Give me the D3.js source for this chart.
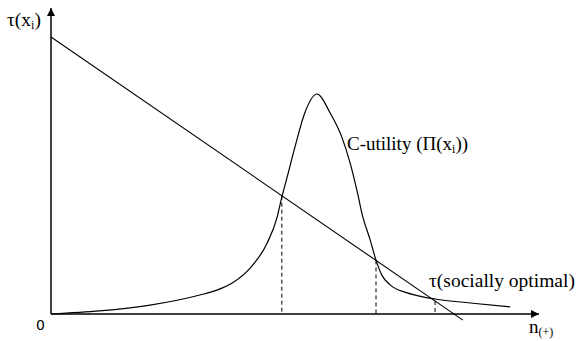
<!DOCTYPE html>
<html>
<head>
<meta charset="utf-8">
<script src="https://cdn.jsdelivr.net/npm/d3@7"></script>
<style>
  body { margin: 0; background: #fff; }
  text { font-family: "Liberation Serif", "Times New Roman", serif; fill: #000; }
</style>
</head>
<body>
<div id="chart-area"></div>
<script>
// Data (arbitrary units 0-100)
const curveX = [0, 10.0, 20.3, 30.5, 34.0, 37.3, 40.8, 44.3, 46.3, 47.3, 48.4, 50.0, 52.0, 54.5, 57.2, 59.6, 61.3, 62.9, 63.7, 65.4, 66.6, 67.8, 69.5, 73.0, 76.2, 78.7, 85.9, 94.1]
const curveY = [0, 1.0, 2.9, 6.2, 7.8, 10.3, 15.0, 23.2, 31.4, 38.2, 44.8, 54.6, 65.7, 71.9, 65.7, 57.8, 49.3, 38.9, 33.0, 24.2, 17.6, 12.7, 9.5, 6.9, 5.6, 4.9, 3.6, 2.3]
const lineX = [0, 84.4]
const lineY = [90.5, -2.0]
const dropX = [47.3, 66.6, 78.7]

// Sizing
const W = 578, H = 341
const ORIGIN = { X: 51, Y: 314 }

const svg = d3.select('#chart-area').append('svg')
	.attr('width', W)
	.attr('height', H)

const x = d3.scaleLinear().domain([0, 100]).range([ORIGIN.X, 539])
const y = d3.scaleLinear().domain([0, 100]).range([ORIGIN.Y, 8])

// arrow marker
svg.append('defs').append('marker')
	.attr('id', 'arrow')
	.attr('viewBox', '0 0 10 10')
	.attr('refX', 10).attr('refY', 5)
	.attr('markerWidth', 10).attr('markerHeight', 8)
	.attr('markerUnits', 'userSpaceOnUse')
	.attr('orient', 'auto')
	.append('path')
	.attr('d', 'M0,0 L10,5 L0,10 z')
	.attr('fill', '#000')

// axes
svg.append('line')
	.attr('x1', x(0)).attr('y1', y(0))
	.attr('x2', x(100)).attr('y2', y(0))
	.attr('stroke', '#000').attr('stroke-width', 1.5)
	.attr('marker-end', 'url(#arrow)')

svg.append('line')
	.attr('x1', x(0)).attr('y1', y(0))
	.attr('x2', x(0)).attr('y2', y(100))
	.attr('stroke', '#000').attr('stroke-width', 1.5)
	.attr('marker-end', 'url(#arrow)')

// straight tax line
const lineFn = d3.scaleLinear().domain(lineX).range(lineY)
svg.append('line')
	.attr('x1', x(lineX[0])).attr('y1', y(lineY[0]))
	.attr('x2', x(lineX[1])).attr('y2', y(lineY[1]))
	.attr('stroke', '#000').attr('stroke-width', 1.1)

// utility curve
const pts = curveX.map((d, i) => [d, curveY[i]])
svg.append('path')
	.datum(pts)
	.attr('fill', 'none')
	.attr('stroke', '#000')
	.attr('stroke-width', 1.2)
	.attr('d', d3.line()
		.x(d => x(d[0]))
		.y(d => y(d[1]))
		.curve(d3.curveMonotoneX))

// dashed drop lines
svg.selectAll('.drop')
	.data(dropX)
	.enter().append('line')
	.attr('class', 'drop')
	.attr('x1', d => x(d)).attr('x2', d => x(d))
	.attr('y1', d => y(lineFn(d)))
	.attr('y2', y(0))
	.attr('stroke', '#000').attr('stroke-width', 1)
	.attr('stroke-dasharray', '4,3')

// labels
const tLabel = svg.append('text').attr('x', 7).attr('y', 26).attr('font-size', '19.5px')
tLabel.append('tspan').text('τ(x')
tLabel.append('tspan').text('i').attr('font-size', '12px').attr('dy', 3)
tLabel.append('tspan').text(')').attr('dy', -3)

svg.append('text')
	.attr('x', 36).attr('y', 330)
	.style('font-family', '"DejaVu Sans", sans-serif')
	.attr('font-size', '14px')
	.text('0')

const nLabel = svg.append('text').attr('x', 529).attr('y', 333).attr('font-size', '19px')
nLabel.append('tspan').text('n')
nLabel.append('tspan').text('(+)').attr('font-size', '12px').attr('dy', 3)

const cLabel = svg.append('text').attr('x', 347).attr('y', 150).attr('font-size', '19px')
cLabel.append('tspan').text('C-utility (Π(x')
cLabel.append('tspan').text('i').attr('font-size', '12px').attr('dy', 3)
cLabel.append('tspan').text('))').attr('dy', -3)

svg.append('text')
	.attr('x', 429).attr('y', 287)
	.attr('font-size', '19.5px')
	.text('τ(socially optimal)')
</script>
</body>
</html>
